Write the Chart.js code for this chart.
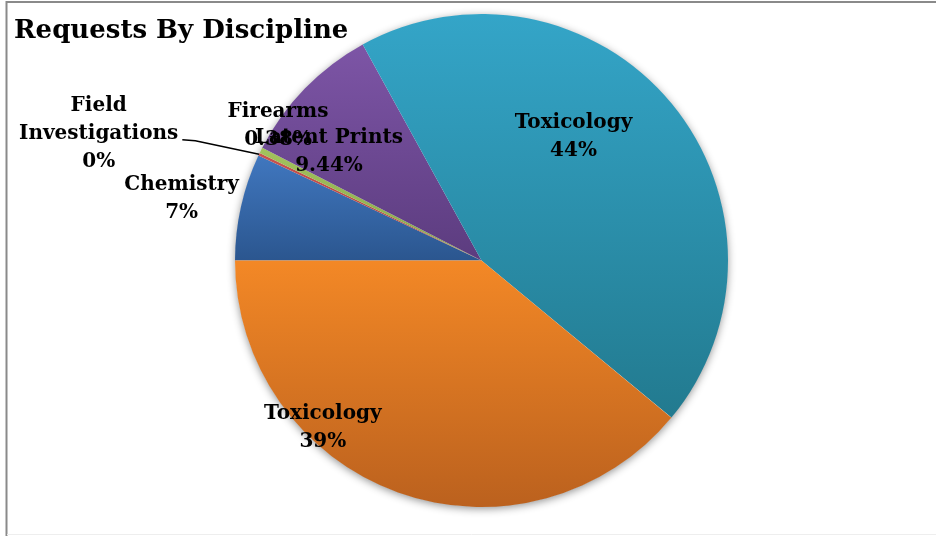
<!DOCTYPE html>
<html lang="en">
<head>
    <meta charset="UTF-8">
    <title>Requests By Discipline</title>
    <script src="https://cdn.jsdelivr.net/npm/chart.js"></script>
    <style>
        body {
            margin: 0;
            background: #fff;
        }
        .chart-container {
            position: relative;
            width: 936px;
            height: 536px;
        }
    </style>
</head>
<body>

    <div class="chart-container">
        <canvas id="pieChart"></canvas>
    </div>

    <script>
        // Requests by discipline (share of total, %)
        const categories = ['Chemistry', 'Field Investigations', 'Firearms', 'Latent Prints', 'Toxicology', 'Toxicology'];
        const shares = [7.0, 0.18, 0.38, 9.44, 44.0, 39.0];
        const shareLabels = ['7%', '0%', '0.38%', '9.44%', '44%', '39%'];

        // slice colours, top (light) -> bottom (dark)
        const lightColors = ['#4077bf', '#c9524e', '#a2c35c', '#7d55a6', '#34a5c8', '#f38826'];
        const darkColors  = ['#2b568f', '#a8423f', '#88a54b', '#5c3c7f', '#227a8f', '#bb611e'];

        // where each label sits: angle offset from slice middle (deg), radius fraction
        const labelPlacement = [
            { dA: -1.0, r: 1.242, wrap: false },
            { dA: -7.2, r: 1.636, wrap: true, leader: true },
            { dA: 6.9, r: 0.989, wrap: false },
            { dA: -8.8, r: 0.759, wrap: false },
            { dA: -13.8, r: 0.626, wrap: false },
            { dA: 23.7, r: 0.935, wrap: false }
        ];

        const ROTATION = 270;
        const labelFont = 'bold 20px "DejaVu Serif", "Liberation Serif", serif';
        const titleFont = 'bold 26px "DejaVu Serif", "Liberation Serif", serif';

        // vertical gradient over each slice's own extent
        function sliceFill(c) {
            const i = c.dataIndex;
            const chart = c.chart;
            const area = chart.chartArea;
            if (!area) return lightColors[i];
            const cx = (area.left + area.right) / 2;
            const cy = (area.top + area.bottom) / 2;
            const r = Math.min(area.width, area.height) / 2;
            const total = shares.reduce((a, b) => a + b, 0);
            let a0 = ROTATION * Math.PI / 180 - Math.PI / 2;
            for (let k = 0; k < i; k++) a0 += shares[k] / total * Math.PI * 2;
            const a1 = a0 + shares[i] / total * Math.PI * 2;
            const ys = [cy, cy + r * Math.sin(a0), cy + r * Math.sin(a1)];
            [Math.PI / 2, Math.PI * 1.5, Math.PI * 2.5, Math.PI * 3.5].forEach(a => {
                if (a > a0 && a < a1) ys.push(cy + r * Math.sin(a));
            });
            let y0 = Math.min(...ys), y1 = Math.max(...ys);
            if (y1 - y0 < 1) y1 = y0 + 1;
            const g = chart.ctx.createLinearGradient(0, y0, 0, y1);
            g.addColorStop(0, lightColors[i]);
            g.addColorStop(1, darkColors[i]);
            return g;
        }

        const pieShadow = {
            id: 'pieShadow',
            beforeDatasetsDraw(chart) {
                const arc = chart.getDatasetMeta(0).data[0];
                if (!arc) return;
                const ctx = chart.ctx;
                ctx.save();
                ctx.shadowColor = 'rgba(0,0,0,0.45)';
                ctx.shadowBlur = 8;
                ctx.shadowOffsetY = 2;
                ctx.beginPath();
                ctx.arc(arc.x, arc.y, arc.outerRadius - 0.5, 0, Math.PI * 2);
                ctx.fillStyle = '#fff';
                ctx.fill();
                ctx.restore();
            }
        };

        const sliceLabels = {
            id: 'sliceLabels',
            afterDatasetsDraw(chart) {
                const ctx = chart.ctx;
                const arcs = chart.getDatasetMeta(0).data;
                ctx.save();
                ctx.font = labelFont;
                ctx.fillStyle = '#000';
                ctx.textAlign = 'center';
                ctx.textBaseline = 'middle';
                arcs.forEach((arc, i) => {
                    const p = labelPlacement[i];
                    const mid = (arc.startAngle + arc.endAngle) / 2;
                    const a = mid + p.dA * Math.PI / 180;
                    const x = arc.x + Math.cos(a) * arc.outerRadius * p.r;
                    const y = arc.y + Math.sin(a) * arc.outerRadius * p.r;
                    const lines = (p.wrap ? categories[i].split(' ') : [categories[i]]).concat(shareLabels[i]);
                    const lh = 28;
                    const top = y - (lines.length - 1) * lh / 2;
                    lines.forEach((t, k) => ctx.fillText(t, x, top + k * lh));
                    if (p.leader) {
                        const w = ctx.measureText(lines[1]).width;
                        const sx = x + w / 2 + 4;
                        const sy = top + lh + 6;
                        const ex = arc.x + Math.cos(mid) * arc.outerRadius;
                        const ey = arc.y + Math.sin(mid) * arc.outerRadius;
                        ctx.beginPath();
                        ctx.moveTo(sx, sy);
                        ctx.lineTo(sx + 13, sy + 1);
                        ctx.lineTo(ex, ey);
                        ctx.strokeStyle = '#000';
                        ctx.lineWidth = 1.5;
                        ctx.stroke();
                    }
                });
                ctx.restore();
            }
        };

        const frameAndTitle = {
            id: 'frameAndTitle',
            afterDraw(chart) {
                const ctx = chart.ctx;
                ctx.save();
                ctx.strokeStyle = '#8a8a8a';
                ctx.lineWidth = 2;
                ctx.beginPath();
                ctx.moveTo(6.5, 536);
                ctx.lineTo(6.5, 2);
                ctx.lineTo(936, 2);
                ctx.stroke();
                ctx.strokeStyle = '#eeeeee';
                ctx.lineWidth = 1;
                ctx.beginPath();
                ctx.moveTo(7, 534.5);
                ctx.lineTo(936, 534.5);
                ctx.stroke();
                ctx.font = titleFont;
                ctx.fillStyle = '#000';
                ctx.textAlign = 'left';
                ctx.textBaseline = 'alphabetic';
                ctx.fillText('Requests By Discipline', 14, 38);
                ctx.restore();
            }
        };

        const pieCtx = document.getElementById('pieChart').getContext('2d');
        const pieChart = new Chart(pieCtx, {
            type: 'pie',
            data: {
                labels: categories,
                datasets: [{
                    data: shares,
                    backgroundColor: sliceFill,
                    borderWidth: 0
                }]
            },
            options: {
                responsive: true,
                maintainAspectRatio: false,
                animation: false,
                rotation: ROTATION,
                layout: {
                    padding: { top: 14, bottom: 29, left: 27, right: 0 }
                },
                plugins: {
                    legend: { display: false },
                    tooltip: { enabled: false }
                }
            },
            plugins: [pieShadow, sliceLabels, frameAndTitle]
        });
    </script>

</body>
</html>
